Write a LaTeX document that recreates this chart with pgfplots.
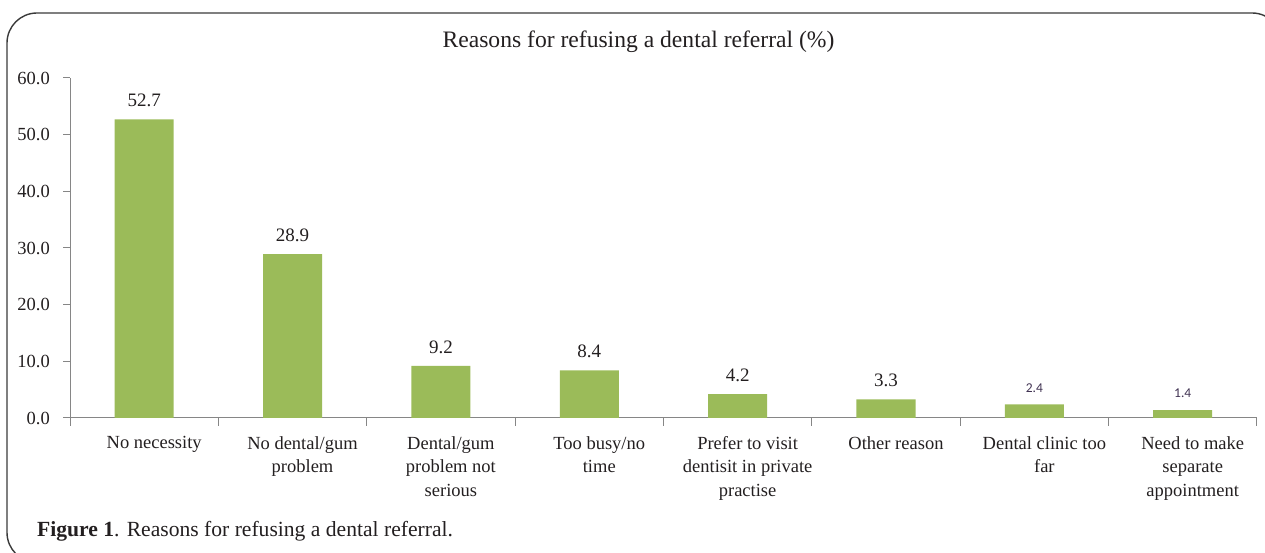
\documentclass[border=0pt]{standalone}
\usepackage{fontspec}
\setmainfont{Liberation Serif}
\newfontfamily\calib{Carlito}
\usepackage{pgfplots}
\pgfplotsset{compat=1.18}
\definecolor{bargreen}{HTML}{9BBB59}
\definecolor{axisgray}{HTML}{868686}
\definecolor{txt}{HTML}{231F20}
\definecolor{lblpurple}{HTML}{3F3151}
\definecolor{framegray}{HTML}{3A3A3A}
\begin{document}
\begin{tikzpicture}[x=1pt,y=1pt]
\useasboundingbox (0,0) rectangle (1265,553);
\begin{scope}
\clip (0,0) rectangle (1265,553);
\draw[framegray, line width=1.4pt, rounded corners=30pt] (7,-9.5) rectangle (1282,540);
\end{scope}
\node[anchor=base, inner sep=0pt, text=txt, font=\fontsize{23.6}{28}\selectfont] at (638.5,505) {Reasons for refusing a dental referral (\%)};
\node[anchor=base west, inner sep=0pt, text=txt, font=\fontsize{21.6}{26}\selectfont] at (37,16) {\textbf{Figure 1}. Reasons for refusing a dental referral.};
\begin{axis}[
  at={(70pt,135pt)}, anchor=south west, scale only axis,
  width=1187pt, height=340pt,
  xmin=-0.5, xmax=7.5, ymin=0, ymax=60,
  axis x line*=bottom, axis y line*=left,
  axis line style={axisgray, line width=1pt},
  tick style={axisgray, line width=1pt},
  tick align=outside,
  major tick length=7pt, minor tick length=8pt,
  ytick={0,10,...,60},
  xtick={0,...,7},
  minor xtick={-0.5,0.5,...,7.5},
  every major x tick/.append style={draw=none},
  xticklabels={No necessity, {No dental/gum\\problem}, {Dental/gum\\problem not\\serious}, {Too busy/no\\time}, {Prefer to visit\\dentisit in private\\practise}, Other reason, {Dental clinic too\\far}, {Need to make\\separate\\appointment}},
  xticklabel style={font=\fontsize{18.5}{23.5}\selectfont, align=center, text=txt, inner sep=0pt, yshift=-11pt, xshift=10pt},
  yticklabel style={font=\fontsize{18.5}{22}\selectfont, text=txt, inner sep=0pt, xshift=-13pt},
  /pgf/number format/.cd, fixed, fixed zerofill, precision=1, assume math mode=true,
  /pgfplots/.cd,
  ybar, bar width=59pt, bar shift=0pt,
  nodes near coords,
  every node near coord/.append style={anchor=south, inner sep=0pt, yshift=12pt, text=txt, font=\fontsize{19}{22}\selectfont},
  clip=false,
]
\addplot[fill=bargreen, draw=none] coordinates {(0,52.7) (1,28.9) (2,9.2) (3,8.4) (4,4.2) (5,3.3)};
\addplot[fill=bargreen, draw=none, every node near coord/.append style={text=lblpurple, font=\calib\fontsize{13.5}{16}\selectfont}] coordinates {(6,2.4) (7,1.4)};
\end{axis}
\end{tikzpicture}
\end{document}
